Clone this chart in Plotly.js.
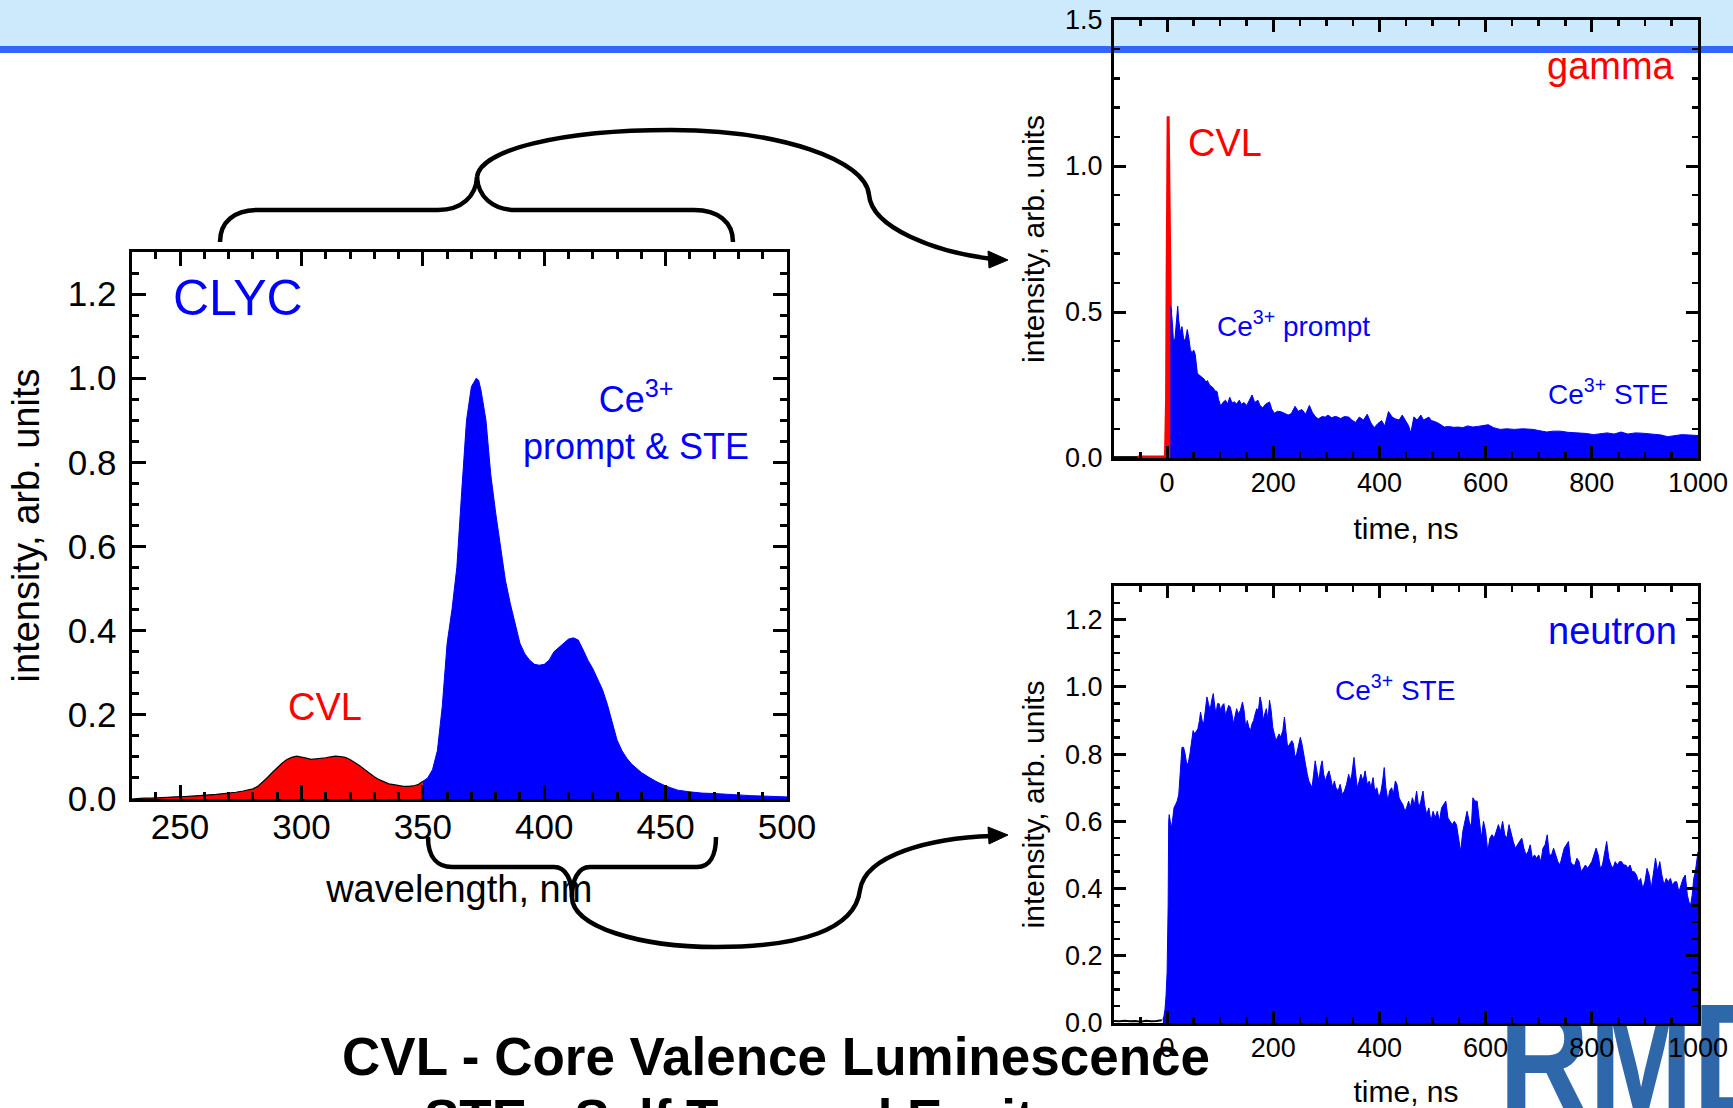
<!DOCTYPE html>
<html>
<head>
<meta charset="utf-8">
<script src="https://cdn.plot.ly/plotly-3.0.1.min.js"></script>
<style>
  html, body { margin:0; padding:0; background:#fff; overflow:hidden; }
  #back, #front { position:absolute; left:0; top:0; width:1733px; height:1108px; }
</style>
</head>
<body>
<div id="back"></div>
<div id="front"></div>
<script>
// ---------------- DATA ----------------
// Left panel: CLYC emission spectrum
const wlCVL = [230,232,235,238,240,242,245,248,250,252,255,258,260,262,265,268,270,273,276,278,
               280,282,284,286,288,290,292,294,296,298,300,302,304,306,308,310,312,314,316,318,
               320,322,324,326,328,330,332,334,336,338,340,342,344,346,348,350];
const intCVL = [0.000,0.001,0.002,0.002,0.003,0.003,0.004,0.005,0.005,0.006,0.007,0.008,0.009,0.009,0.011,0.013,0.014,0.016,0.019,0.021,
                0.024,0.030,0.040,0.051,0.063,0.075,0.085,0.094,0.099,0.102,0.100,0.097,0.094,0.095,0.097,0.098,0.100,0.102,0.101,0.099,
                0.094,0.087,0.079,0.070,0.061,0.053,0.046,0.041,0.036,0.034,0.032,0.030,0.030,0.031,0.034,0.042];
const wlCe = [350,352,354,356,358,360,362,364,366,368,370,371,372,373,374,376,378,380,382,384,
              386,388,390,392,394,396,398,400,402,404,406,408,410,412,414,416,418,420,422,424,
              426,428,430,432,434,436,438,440,443,446,450,455,460,465,470,475,480,485,490,495,500];
const intCe = [0.042,0.050,0.070,0.115,0.220,0.370,0.450,0.550,0.730,0.900,0.980,0.990,1.000,0.995,0.970,0.900,0.770,0.680,0.600,0.520,
               0.465,0.415,0.370,0.345,0.330,0.320,0.318,0.320,0.330,0.350,0.360,0.370,0.380,0.383,0.378,0.355,0.330,0.310,0.285,0.260,
               0.225,0.185,0.140,0.115,0.097,0.083,0.072,0.063,0.052,0.042,0.031,0.021,0.017,0.014,0.013,0.011,0.009,0.008,0.007,0.006,0.005];

// Top right: gamma excitation decay
const tGamBase = [-100,-55];
const yGamBase = [0.003,0.003];
const tGamCVL = [-55,-50,-40,-30,-20,-10,-5,-3,-1,0,1,2,3,4,5,6,7,8];
const yGamCVL = [0.003,0.003,0.003,0.003,0.003,0.003,0.003,0.01,0.2,0.6,0.95,1.17,1.0,0.8,0.62,0.52,0.5,0.5];
const tGam = [6,8,10,12,15,18,20,22,25,28,
              31,34,38,41,44,47,50,53,57,60,
              63,66,70,73,76,80,83,87,90,94,
              97,101,105,110,114,118,122,127,131,136,
              140,145,150,155,160,165,171,175,180,186,
              193,197,202,208,215,221,228,234,241,247,
              254,261,268,274,280,285,292,298,303,310,
              316,320,327,334,342,348,355,362,370,377,
              384,390,397,404,410,417,424,430,437,443,
              450,455,459,462,465,471,478,483,487,493,
              498,504,512,522,530,540,548,557,566,576,
              585,595,605,615,627,640,654,670,689,700,
              715,728,741,755,776,790,803,816,829,842,
              855,868,882,895,908,917,930,943,956,969,
              982,1000];
const yGam = [0.52,0.505,0.46,0.40,0.41,0.48,0.52,0.47,0.43,0.45,
              0.41,0.40,0.44,0.41,0.37,0.36,0.37,0.355,0.29,0.285,
              0.28,0.275,0.27,0.26,0.265,0.25,0.245,0.24,0.23,0.228,
              0.20,0.178,0.19,0.198,0.185,0.208,0.19,0.192,0.185,0.198,
              0.184,0.19,0.18,0.20,0.216,0.19,0.198,0.18,0.172,0.185,
              0.192,0.168,0.153,0.16,0.158,0.153,0.147,0.152,0.177,0.16,
              0.166,0.15,0.18,0.155,0.14,0.134,0.142,0.14,0.147,0.138,
              0.142,0.141,0.135,0.142,0.14,0.13,0.122,0.14,0.13,0.15,
              0.12,0.104,0.118,0.128,0.11,0.159,0.14,0.134,0.13,0.147,
              0.125,0.11,0.086,0.12,0.141,0.13,0.147,0.13,0.134,0.14,
              0.128,0.125,0.118,0.106,0.108,0.105,0.106,0.104,0.11,0.106,
              0.108,0.11,0.114,0.104,0.098,0.10,0.098,0.10,0.098,0.094,
              0.089,0.092,0.092,0.088,0.086,0.084,0.08,0.083,0.086,0.082,
              0.089,0.082,0.086,0.085,0.083,0.082,0.079,0.073,0.077,0.08,
              0.079,0.077];

// Bottom right: neutron excitation decay
const tNeuBase = [-100,-90,-80,-70,-60,-50,-40,-30,-20,-10];
const yNeuBase = [0.006,0.005,0.007,0.005,0.006,0.004,0.007,0.005,0.006,0.008];
const tNeu = [-8,-6,-4,-2,0,2,3,4,6,8,
              10,13,16,19,22,25,28,31,34,37,
              40,43,46,49,52,55,58,61,63,66,
              69,72,75,78,81,84,87,90,92,95,
              98,101,104,107,110,113,116,119,122,125,
              128,131,134,138,142,145,148,151,154,157,
              160,163,166,169,172,175,178,181,184,187,
              190,193,196,199,202,205,208,211,214,218,
              221,224,227,231,235,238,241,244,248,251,
              254,257,260,264,267,270,273,276,279,282,
              286,289,292,295,298,302,305,308,312,315,
              318,322,326,330,334,338,342,345,348,352,
              355,358,362,365,369,373,377,381,384,388,
              391,395,399,403,406,409,412,416,419,423,
              426,430,433,437,440,444,448,451,455,458,
              462,466,470,474,478,482,485,489,493,497,
              501,505,509,513,517,521,525,529,533,537,
              541,545,549,553,557,561,565,569,573,576,
              580,584,588,592,596,600,604,608,612,616,
              620,624,628,632,636,640,644,648,652,656,
              660,664,668,672,676,680,684,688,692,696,
              700,704,708,712,716,720,724,728,732,736,
              740,744,748,752,756,760,764,768,772,776,
              780,784,788,792,796,800,804,808,812,816,
              820,824,828,832,836,840,844,848,852,856,
              860,864,868,872,876,880,884,888,892,896,
              900,904,908,912,916,920,924,928,932,936,
              940,944,948,952,956,960,964,968,972,976,
              980,983,986,989,992,995,998,1000];
const yNeu = [0.01,0.02,0.04,0.08,0.15,0.35,0.6,0.62,0.6,0.58,
              0.6,0.64,0.65,0.66,0.68,0.76,0.82,0.82,0.8,0.77,
              0.775,0.8,0.83,0.87,0.86,0.87,0.875,0.9,0.925,0.9,
              0.89,0.93,0.97,0.95,0.93,0.96,0.98,0.94,0.92,0.95,
              0.95,0.93,0.945,0.95,0.915,0.93,0.945,0.94,0.92,0.89,
              0.91,0.935,0.92,0.93,0.955,0.93,0.88,0.9,0.88,0.87,
              0.89,0.9,0.92,0.935,0.93,0.97,0.95,0.9,0.92,0.935,
              0.9,0.96,0.93,0.88,0.86,0.84,0.85,0.86,0.85,0.87,
              0.91,0.86,0.82,0.83,0.84,0.83,0.79,0.8,0.83,0.85,
              0.83,0.8,0.78,0.74,0.72,0.71,0.7,0.74,0.78,0.75,
              0.72,0.76,0.78,0.74,0.72,0.74,0.75,0.73,0.7,0.72,
              0.7,0.69,0.71,0.68,0.69,0.71,0.74,0.72,0.74,0.79,
              0.74,0.7,0.72,0.74,0.72,0.75,0.71,0.72,0.7,0.73,
              0.69,0.7,0.67,0.69,0.72,0.76,0.7,0.66,0.69,0.7,
              0.68,0.72,0.71,0.67,0.66,0.65,0.63,0.64,0.66,0.64,
              0.67,0.65,0.69,0.64,0.66,0.69,0.65,0.62,0.64,0.6,
              0.63,0.61,0.63,0.6,0.64,0.65,0.66,0.61,0.6,0.59,
              0.6,0.59,0.55,0.51,0.57,0.6,0.63,0.6,0.58,0.67,
              0.66,0.66,0.6,0.55,0.6,0.57,0.51,0.55,0.56,0.55,
              0.57,0.59,0.57,0.6,0.56,0.55,0.59,0.56,0.54,0.52,
              0.53,0.54,0.55,0.52,0.5,0.51,0.53,0.49,0.5,0.49,
              0.5,0.48,0.52,0.53,0.56,0.5,0.5,0.52,0.5,0.48,
              0.47,0.5,0.52,0.53,0.54,0.48,0.47,0.47,0.49,0.48,
              0.45,0.46,0.47,0.46,0.47,0.48,0.5,0.52,0.5,0.46,
              0.47,0.5,0.54,0.49,0.47,0.46,0.48,0.47,0.48,0.48,
              0.47,0.47,0.46,0.47,0.45,0.45,0.44,0.42,0.43,0.4,
              0.42,0.46,0.44,0.4,0.45,0.49,0.45,0.48,0.44,0.41,
              0.43,0.42,0.43,0.41,0.42,0.42,0.39,0.41,0.43,0.44,
              0.38,0.36,0.35,0.38,0.43,0.45,0.49,0.51];

// ---------------- HELPERS ----------------
const W = 1733, H = 1108;
const px = x => x / W;
const py = y => 1 - y / H;
function toPaper(d) {
  let i = 0;
  return d.replace(/-?\d+(\.\d+)?/g, m => {
    const v = parseFloat(m);
    const r = (i % 2 === 0) ? v / W : 1 - v / H;
    i++;
    return r.toFixed(5);
  });
}
const FONT = 'Liberation Sans, Arial, Helvetica, sans-serif';
const BLUE = '#0000ff', RED = '#ff0000';

function axisStyle(o) {
  return Object.assign({
    showline: true, linecolor: '#000', linewidth: 3, mirror: 'ticks',
    ticks: 'inside', tickcolor: '#000', tickwidth: 3,
    showgrid: false, zeroline: false, fixedrange: true,
  }, o);
}

// ---------------- BACK LAYER (banner + logo) ----------------
const backLayout = {
  width: W, height: H, margin: {l:0, r:0, t:0, b:0},
  paper_bgcolor: '#ffffff', plot_bgcolor: 'rgba(0,0,0,0)',
  xaxis: {visible:false}, yaxis: {visible:false},
  shapes: [
    {type:'rect', xref:'paper', yref:'paper', x0:0, x1:1, y0:py(46), y1:py(0),
     fillcolor:'#cdeafd', line:{width:0}, layer:'below'},
    {type:'rect', xref:'paper', yref:'paper', x0:0, x1:1, y0:py(53), y1:py(46),
     fillcolor:'#3366ff', line:{width:0}, layer:'below'}
  ],
  annotations: [
    {xref:'paper', yref:'paper', x:px(1497), y:py(968), xanchor:'left', yanchor:'top',
     text:'<b>RMD</b>', showarrow:false,
     font:{family:'Liberation Sans, Arial, sans-serif', size:160, color:'#2f67ab'}}
  ]
};
Plotly.newPlot('back', [], backLayout, {staticPlot:true, displayModeBar:false}).then(() => {
  document.querySelectorAll('#back .annotation-text').forEach(t => {
    t.style.transformBox = 'fill-box';
    t.style.transformOrigin = 'left top';
    t.style.transform = 'scaleX(0.78)';
  });
});

// ---------------- FRONT LAYER (charts) ----------------
const traces = [
  // Left spectrum
  {x: wlCVL, y: intCVL, xaxis:'x', yaxis:'y', type:'scatter', mode:'lines',
   fill:'tozeroy', fillcolor: RED, line:{color:'#000', width:1.2}, name:'CVL'},
  {x: wlCe, y: intCe, xaxis:'x', yaxis:'y', type:'scatter', mode:'lines',
   fill:'tozeroy', fillcolor: BLUE, line:{color: BLUE, width:1}, name:'Ce3+ prompt & STE'},
  // Gamma
  {x: tGamBase, y: yGamBase, xaxis:'x2', yaxis:'y2', type:'scatter', mode:'lines',
   line:{color:'#000', width:2}, name:'baseline'},
  {x: tGamCVL, y: yGamCVL, xaxis:'x2', yaxis:'y2', type:'scatter', mode:'lines',
   fill:'tozeroy', fillcolor: RED, line:{color: RED, width:3}, name:'CVL (gamma)'},
  {x: tGam, y: yGam, xaxis:'x2', yaxis:'y2', type:'scatter', mode:'lines',
   fill:'tozeroy', fillcolor: BLUE, line:{color: BLUE, width:1}, name:'Ce3+ (gamma)'},
  // Neutron
  {x: tNeuBase, y: yNeuBase, xaxis:'x3', yaxis:'y3', type:'scatter', mode:'lines',
   line:{color:'#000', width:2}, name:'baseline'},
  {x: tNeu, y: yNeu, xaxis:'x3', yaxis:'y3', type:'scatter', mode:'lines',
   fill:'tozeroy', fillcolor: BLUE, line:{color: BLUE, width:1}, name:'Ce3+ STE (neutron)'}
];

const bigTick = {family: FONT, size: 35, color:'#000'};
const smallTick = {family: FONT, size: 27, color:'#000'};

const braceLine = {color:'#000', width:4.5};
const bracePaths = [
  'M 220 242 C 220 222 234 210 258 210 L 438 210 C 462 210 476 196 477 177',
  'M 477 177 C 478 196 492 210 516 210 L 694 210 C 718 210 733 222 733 242',
  'M 477 177 C 480 150 560 130 671 130 C 780 130 866 160 869 195 C 872 228 935 252 992 259',
  'M 428 837 C 428 858 438 867 452 867 L 554 867 C 566 867 572 880 572 897',
  'M 572 897 C 572 880 578 867 590 867 L 697 867 C 710 867 716 855 716 837',
  'M 572 897 C 572 927 640 947 716 947 C 800 947 855 930 860 890 C 865 855 930 838 992 836'
];
const arrowHeads = [
  'M 1008 260 L 988 251 L 989 268 Z',
  'M 1008 835 L 988 827 L 989 844 Z'
];
const shapes = bracePaths.map(d => ({type:'path', xref:'paper', yref:'paper', path: toPaper(d),
                                      line: braceLine, layer:'above'}))
  .concat(arrowHeads.map(d => ({type:'path', xref:'paper', yref:'paper', path: toPaper(d),
                                fillcolor:'#000', line:{color:'#000', width:1}, layer:'above'})));

function ann(x, y, text, size, color, xanchor, extra) {
  return Object.assign({xref:'paper', yref:'paper', x: px(x), y: py(y), text: text,
    showarrow:false, xanchor: xanchor || 'center', yanchor:'middle',
    font:{family: FONT, size: size, color: color}}, extra || {});
}

const frontLayout = {
  width: W, height: H, margin: {l:0, r:0, t:0, b:0},
  paper_bgcolor: 'rgba(0,0,0,0)', plot_bgcolor: 'rgba(0,0,0,0)',
  showlegend: false,
  font: {family: FONT, color:'#000'},
  // Left spectrum
  xaxis: axisStyle({domain:[px(131.5), px(787)], anchor:'y', range:[230, 500],
    tickmode:'linear', tick0:0, dtick:50, ticklen:14, tickfont: bigTick, ticklabelstandoff: -5,
    minor:{dtick:10, ticklen:7, tickwidth:3, tickcolor:'#000', ticks:'inside'},
    title:{text:'wavelength, nm', font:{family:FONT, size:38, color:'#000'}, standoff: 31}}),
  yaxis: axisStyle({domain:[py(799), py(252)], anchor:'x', range:[0, 1.3],
    tickmode:'linear', tick0:0, dtick:0.2, tickformat:'.1f', ticklen:14, tickfont: bigTick, ticklabelstandoff: 5,
    minor:{dtick:0.05, ticklen:7, tickwidth:3, tickcolor:'#000', ticks:'inside'},
    title:{text:'intensity, arb. units', font:{family:FONT, size:38, color:'#000'}, standoff: 17}}),
  // Gamma
  xaxis2: axisStyle({domain:[px(1114), px(1698)], anchor:'y2', range:[-100, 1000],
    tickmode:'linear', tick0:0, dtick:200, ticklen:12, tickfont: smallTick, ticklabelstandoff: -1,
    minor:{dtick:50, ticklen:6, tickwidth:2.5, tickcolor:'#000', ticks:'inside'},
    title:{text:'time, ns', font:{family:FONT, size:30, color:'#000'}, standoff: 21}}),
  yaxis2: axisStyle({domain:[py(458), py(20)], anchor:'x2', range:[0, 1.5],
    tickmode:'linear', tick0:0, dtick:0.5, tickformat:'.1f', ticklen:12, tickfont: smallTick, ticklabelstandoff: 3,
    minor:{dtick:0.1, ticklen:6, tickwidth:2.5, tickcolor:'#000', ticks:'inside'},
    title:{text:'intensity, arb. units', font:{family:FONT, size:30, color:'#000'}, standoff: 12}}),
  // Neutron
  xaxis3: axisStyle({domain:[px(1114), px(1698)], anchor:'y3', range:[-100, 1000],
    tickmode:'linear', tick0:0, dtick:200, ticklen:12, tickfont: smallTick, ticklabelstandoff: -1,
    minor:{dtick:50, ticklen:6, tickwidth:2.5, tickcolor:'#000', ticks:'inside'},
    title:{text:'time, ns', font:{family:FONT, size:30, color:'#000'}, standoff: 23}}),
  yaxis3: axisStyle({domain:[py(1023), py(586)], anchor:'x3', range:[0, 1.3],
    tickmode:'linear', tick0:0, dtick:0.2, tickformat:'.1f', ticklen:12, tickfont: smallTick, ticklabelstandoff: 3,
    minor:{dtick:0.05, ticklen:6, tickwidth:2.5, tickcolor:'#000', ticks:'inside'},
    title:{text:'intensity, arb. units', font:{family:FONT, size:30, color:'#000'}, standoff: 12}}),
  shapes: shapes,
  annotations: [
    ann(171, 298, 'CLYC', 50, BLUE, 'left'),
    ann(636, 420, 'Ce<sup>3+</sup><br>prompt &amp; STE', 36, BLUE, 'center', {align:'center'}),
    ann(325, 707, 'CVL', 38, RED),
    ann(1677, 66, 'gamma', 38, RED, 'right'),
    ann(1225, 143, 'CVL', 38, RED),
    ann(1293, 324, 'Ce<sup>3+</sup> prompt', 28, BLUE),
    ann(1608, 392, 'Ce<sup>3+</sup> STE', 28, BLUE),
    ann(1679, 631, 'neutron', 38, BLUE, 'right'),
    ann(1395, 688, 'Ce<sup>3+</sup> STE', 28, BLUE),
    ann(776, 1056, '<b>CVL - Core Valence Luminescence</b>', 53, '#000'),
    ann(776, 1118, '<b>STE - Self Trapped Excitons</b>', 53, '#000')
  ]
};
Plotly.newPlot('front', traces, frontLayout, {staticPlot:true, displayModeBar:false});
</script>
</body>
</html>
